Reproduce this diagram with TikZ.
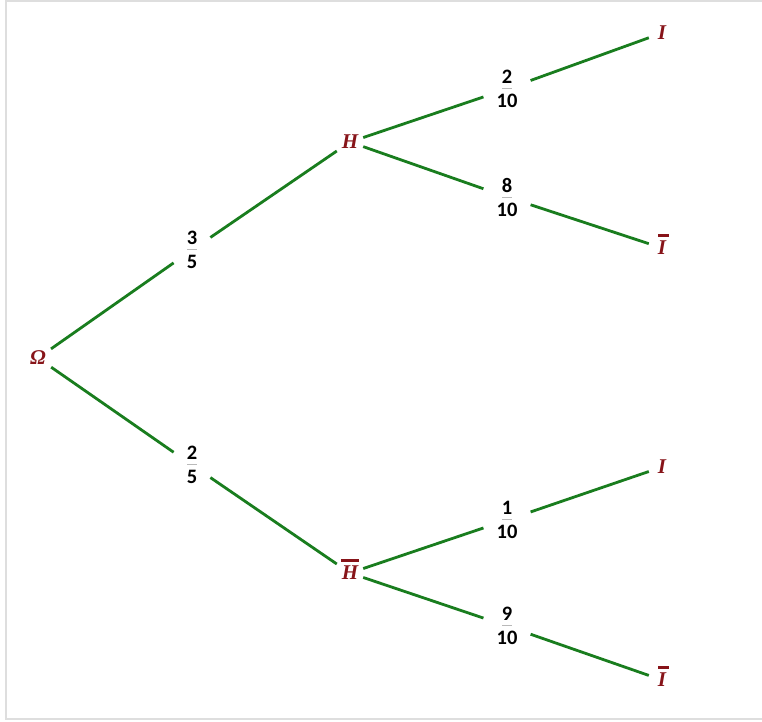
\documentclass[tikz,border=0pt]{standalone}
\usepackage{fontspec}
\setmainfont{Liberation Serif}
\newfontfamily\numfont{Carlito}
\definecolor{evtred}{RGB}{135,20,25}
\definecolor{brgreen}{RGB}{25,125,30}
\definecolor{fracbar}{RGB}{185,185,185}
\definecolor{framegray}{RGB}{222,222,222}
\newcommand\compl[2][0pt]{\setbox0=\hbox{#2}%
  \rlap{\kern#1\raisebox{\dimexpr\ht0+4pt\relax}[0pt][0pt]{\rule{\dimexpr\wd0+2pt\relax}{2.8pt}}}\box0}
\newcommand\prob[2]{#1\\[-10pt]{\color{fracbar}\rule[6.5pt]{10pt}{0.8pt}}\\[-10pt]#2}
\usetikzlibrary{positioning}

\begin{document}
\begin{tikzpicture}[x=1pt,y=-1pt,
                    branch/.style={draw=brgreen,line width=2.8pt},
                    event/.style={text=evtred,font=\fontsize{21}{24}\selectfont\bfseries\itshape,
                                  minimum width=26pt,inner sep=2pt},
                    prob/.style={align=center,font=\fontsize{20.5}{22}\selectfont\numfont\bfseries,
                                 inner xsep=13pt,inner ysep=2pt}]
  \useasboundingbox (0,0) rectangle (762,721);
  \draw[framegray,line width=1.5pt] (762,1) -- (6,1) -- (6,719) -- (762,719);
  \node[event] (omega) at (38,358) {Ω};
  \node[prob] (pH) at (192,250) {\prob{3}{5}};
  \node[prob] (pHn) at (192,465) {\prob{2}{5}};
  \node[event] (H) at (350,142) {H};
  \node[event] (Hn) at (350,573) {\compl[-1pt]{H}};
  \node[prob] (pIH) at (507,89) {\prob{2}{10}};
  \node[prob] (pInH) at (507,197) {\prob{8}{10}};
  \node[prob] (pIHn) at (507,520) {\prob{1}{10}};
  \node[prob] (pInHn) at (507,626) {\prob{9}{10}};
  \node[event] (IH) at (662,33) {I};
  \node[event] (InH) at (662,248) {\compl[0.5pt]{I}};
  \node[event] (IHn) at (662,467) {I};
  \node[event] (InHn) at (662,680) {\compl[0.5pt]{I}};
  \draw[branch] (omega) -- (pH);
  \draw[branch] (pH) -- (H);
  \draw[branch] (omega) -- (pHn);
  \draw[branch] (pHn) -- (Hn);
  \draw[branch] (H) -- (pIH);
  \draw[branch] (pIH) -- (IH);
  \draw[branch] (H) -- (pInH);
  \draw[branch] (pInH) -- (InH);
  \draw[branch] (Hn) -- (pIHn);
  \draw[branch] (pIHn) -- (IHn);
  \draw[branch] (Hn) -- (pInHn);
  \draw[branch] (pInHn) -- (InHn);
\end{tikzpicture}
\end{document}
